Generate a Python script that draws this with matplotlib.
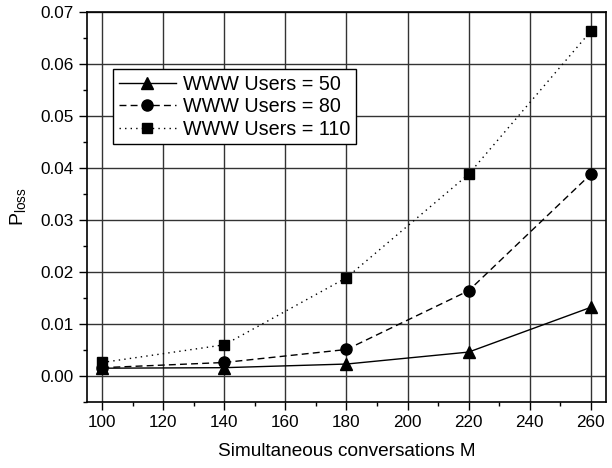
import matplotlib
matplotlib.use("Agg")
import matplotlib.pyplot as plt
from matplotlib.ticker import MultipleLocator

plt.rcParams['font.family'] = ['Liberation Sans', 'DejaVu Sans']
plt.rcParams['mathtext.fontset'] = 'custom'
plt.rcParams['mathtext.rm'] = 'Liberation Sans'

conversations = [100, 140, 180, 220, 260]
users_50 = [0.0015, 0.0016, 0.0023, 0.0046, 0.0132]
users_80 = [0.0016, 0.0026, 0.0051, 0.0164, 0.0388]
users_110 = [0.0026, 0.0060, 0.0189, 0.0388, 0.0663]
labels = ["WWW Users = 50", "WWW Users = 80", "WWW Users = 110"]

fig = plt.figure(figsize=(6.12, 4.68), dpi=100)
ax = fig.add_axes([87/612, 1 - 402/468, (606 - 87)/612, (402 - 12)/468])

ax.plot(conversations, users_50, color='black', linestyle='-', linewidth=1,
        marker='^', markersize=8, label=labels[0])
ax.plot(conversations, users_80, color='black', linestyle=(0, (5, 3)), linewidth=1,
        marker='o', markersize=8, label=labels[1])
ax.plot(conversations, users_110, color='black', linestyle=(0, (1, 3)), linewidth=1,
        marker='s', markersize=7.5, label=labels[2])

ax.set_xlim(95, 265)
ax.set_ylim(-0.005, 0.07)
ax.xaxis.set_major_locator(MultipleLocator(20))
ax.xaxis.set_minor_locator(MultipleLocator(10))
ax.yaxis.set_major_locator(MultipleLocator(0.01))
ax.yaxis.set_minor_locator(MultipleLocator(0.005))
ax.yaxis.set_major_formatter(matplotlib.ticker.FormatStrFormatter('%.2f'))

ax.grid(True, which='major', color='#333333', linewidth=1)
ax.tick_params(which='major', direction='out', length=6, width=1, labelsize=12.3)
ax.tick_params(which='minor', direction='out', length=3, width=1)
for s in ax.spines.values():
    s.set_linewidth(1.2)

ax.set_xlabel("Simultaneous conversations M", fontsize=13.7, labelpad=9)
ax.set_ylabel(r"P$_{\mathrm{loss}}$", fontsize=14, labelpad=8)

leg = ax.legend(loc='upper left', bbox_to_anchor=(0.050, 0.854), borderaxespad=0,
                fontsize=14.2, frameon=True, fancybox=False, edgecolor='black',
                framealpha=1, handlelength=2.9, handletextpad=0.35, borderpad=0.3,
                labelspacing=0.17)
leg.get_frame().set_linewidth(1)

fig.savefig("out.png", dpi=100)
